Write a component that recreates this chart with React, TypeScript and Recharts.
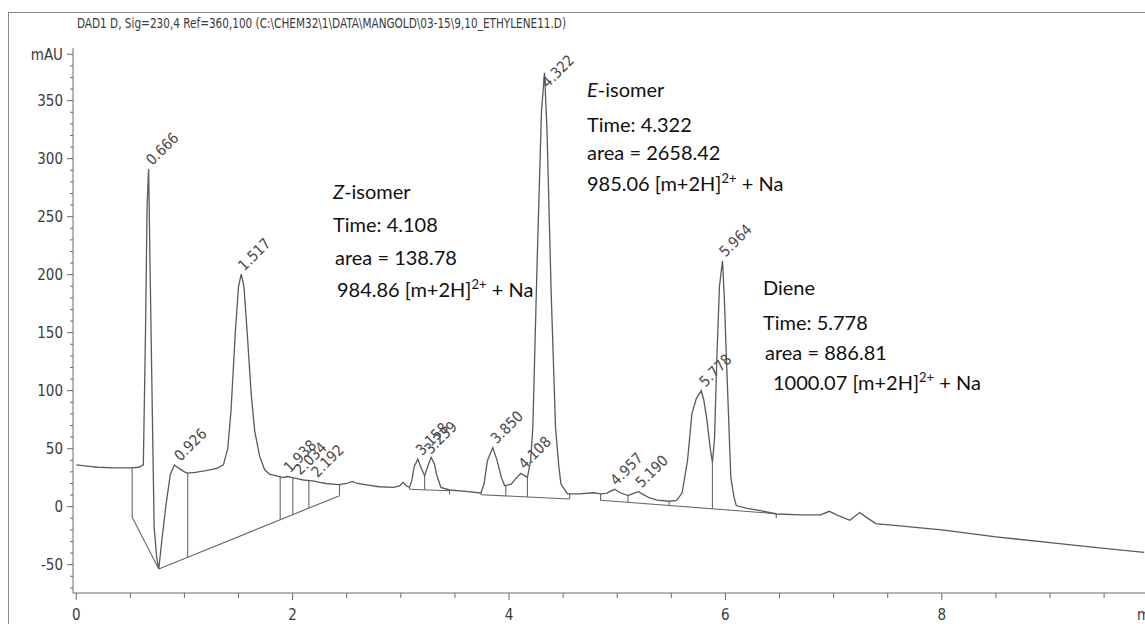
import React from 'react';
import { ComposedChart, Line, XAxis, YAxis, ReferenceLine, ReferenceDot } from 'recharts';

// retention time (min) and detector signal (mAU)
const retentionTimes = [
  0.0, 0.1, 0.2, 0.35, 0.5, 0.58, 0.62, 0.64, 0.655, 0.669, 0.68, 0.7, 0.72, 0.745, 0.763, 0.79, 0.83, 0.87, 0.908,
  0.95, 1.0, 1.03, 1.1, 1.2, 1.3, 1.36, 1.4, 1.43, 1.47, 1.5, 1.525, 1.55, 1.58, 1.617, 1.65, 1.694, 1.74, 1.786,
  1.85, 1.91, 1.95, 2.0, 2.05, 2.1, 2.156, 2.2, 2.25, 2.31, 2.37, 2.43, 2.5, 2.55, 2.6, 2.7, 2.8, 2.93, 2.99, 3.02,
  3.05, 3.08, 3.1, 3.125, 3.157, 3.19, 3.22, 3.25, 3.28, 3.31, 3.33, 3.37, 3.45, 3.6, 3.74, 3.77, 3.8, 3.85, 3.89,
  3.93, 3.96, 4.02, 4.07, 4.11, 4.17, 4.2, 4.22, 4.26, 4.3, 4.328, 4.35, 4.39, 4.43, 4.46, 4.48, 4.54, 4.65, 4.78,
  4.85, 4.9, 4.93, 4.975, 5.03, 5.1, 5.15, 5.197, 5.25, 5.3, 5.37, 5.48, 5.55, 5.6, 5.65, 5.69, 5.73, 5.777, 5.8,
  5.83, 5.86, 5.88, 5.9, 5.92, 5.945, 5.973, 5.99, 6.01, 6.05, 6.08, 6.1, 6.2, 6.3, 6.47, 6.7, 6.88, 6.96, 7.05,
  7.15, 7.24, 7.3, 7.39, 8.0, 8.5, 9.0, 9.5, 9.87,
];
const absorbance = [
  36, 35, 34, 33.5, 33.5, 34, 36, 150, 260, 291, 220, 100, -18, -45, -53.7, -30, 2, 28, 36,
  33, 30, 29, 29.5, 31, 33, 36, 50, 82, 150, 190, 200.5, 190, 150, 97, 65, 44, 32, 28,
  26.5, 25, 26, 25, 24, 23, 22.4, 22, 21, 20, 19.5, 19, 20, 21.8, 20, 18.5, 17.2, 16.6, 18, 21,
  18, 16.6, 22, 35, 41, 33, 26.7, 35, 42.5, 37, 28, 16.6, 14.4, 13.2, 11.8, 20, 39.7, 51, 39.7,
  25, 18, 19.5, 25, 28.7, 25.3, 40, 68, 212, 341, 374, 327, 183, 68, 35, 19.5, 11, 11, 12,
  11, 11.5, 13, 15, 12, 9.5, 11.5, 13, 10, 7.5, 5.6, 4.7, 5.5, 12, 40, 80, 93, 100, 92,
  74, 50, 38, 60, 126, 190, 212, 180, 126, 25, 8, 1, -1.5, -3, -6.3, -7, -7, -4, -8,
  -11.7, -5, -9, -14.6, -20, -26, -31, -36, -39.4,
];

// integrator peak labels (time, label anchor height)
const peakTimes = [0.666, 0.926, 1.517, 1.938, 2.034, 2.192, 3.158, 3.239, 3.85, 4.108, 4.322, 4.957, 5.19, 5.778, 5.964];
const peakHeights = [291, 36, 200, 26, 24, 22, 41, 42, 51, 29, 358, 15, 13, 100, 212];
const peakLabels = ['0.666', '0.926', '1.517', '1.938', '2.034', '2.192', '3.158', '3.239', '3.850', '4.108', '4.322', '4.957', '5.190', '5.778', '5.964'];

// integration baselines and drop lines: [t1, v1, t2, v2]
const integrationSegments = [
  [0.517, 33.5, 0.517, -9],
  [0.517, -9, 0.763, -53.7],
  [0.763, -53.7, 2.433, 9.5],
  [2.433, 9.5, 2.433, 19],
  [1.03, 29, 1.03, -43.6],
  [1.885, 26, 1.885, -11.2],
  [2.002, 25, 2.002, -6.8],
  [2.15, 22.5, 2.15, -1.2],
  [3.08, 16.6, 3.08, 15],
  [3.08, 15, 3.45, 13.8],
  [3.45, 14.4, 3.45, 10.5],
  [3.22, 26.7, 3.22, 14.5],
  [3.74, 11.8, 3.74, 10.3],
  [3.74, 10.3, 4.56, 6.6],
  [4.56, 6.6, 4.56, 11],
  [3.97, 18, 3.97, 9.4],
  [4.17, 25.3, 4.17, 8.4],
  [4.846, 11, 4.846, 5.5],
  [4.846, 5.5, 6.47, -6],
  [6.47, -6.3, 6.47, -10],
  [5.1, 9.5, 5.1, 3.7],
  [5.48, 4.7, 5.48, 1.0],
  [5.88, 38, 5.88, -1.8],
];

const xTicks = [0, 0.5, 1, 1.5, 2, 2.5, 3, 3.5, 4, 4.5, 5, 5.5, 6, 6.5, 7, 7.5, 8, 8.5, 9, 9.5];
const yTicks = [-70, -60, -50, -40, -30, -20, -10, 0, 10, 20, 30, 40, 50, 60, 70, 80, 90, 100, 110, 120, 130, 140,
  150, 160, 170, 180, 190, 200, 210, 220, 230, 240, 250, 260, 270, 280, 290, 300, 310, 320, 330, 340, 350, 360,
  370, 380, 390];

const data = retentionTimes.map((t, i) => ({ t, v: absorbance[i] }));

const narrow = "'Liberation Sans Narrow', 'DejaVu Sans Condensed', sans-serif";
const axisGray = '#6a6a6a';
const textGray = '#3a3a3a';

const YTick = (props: any) => {
  const { x, y, payload } = props;
  const v = payload.value;
  const major = v % 50 === 0;
  let label = major && v >= -50 && v <= 350 ? String(v) : '';
  if (v === 390) label = 'mAU';
  return (
    <g>
      <line x1={x - (major || v === 390 ? 6 : 3)} x2={x} y1={y} y2={y} stroke={axisGray} strokeWidth={1} />
      {label && (
        <text x={x - 10} y={y} dy="0.36em" textAnchor="end" fontFamily={narrow} fontSize={15} fill={textGray}>
          {label}
        </text>
      )}
    </g>
  );
};

const XTick = (props: any) => {
  const { x, y, payload } = props;
  const v = payload.value;
  const major = v % 2 === 0;
  return (
    <g>
      <line x1={x} x2={x} y1={y} y2={y + (major ? 7 : 5)} stroke={axisGray} strokeWidth={1} />
      {major && (
        <text x={x} y={y + 22} dy="0.36em" textAnchor="middle" fontFamily={narrow} fontSize={15} fill={textGray}>
          {v}
        </text>
      )}
    </g>
  );
};

const PeakLabel = (text: string) => (props: any) => {
  const { cx, cy } = props;
  const x = cx + 4;
  const y = cy - 3;
  return (
    <text x={x} y={y} transform={`rotate(-45 ${x} ${y})`} fontFamily={narrow} fontSize={15} fill="#4a4a4a">
      {text}
    </text>
  );
};

const Sup = ({ children }: { children: React.ReactNode }) => (
  <>
    <tspan dy={-8} fontSize={13}>{children}</tspan>
    <tspan dy={8}> </tspan>
  </>
);

const noteFont = "Lato, 'Open Sans', sans-serif";

export default function App() {
  return (
    <div style={{ position: 'absolute', left: 0, top: 0, width: 1145, height: 624, overflow: 'hidden', background: '#fff' }}>
      <ComposedChart width={1145} height={624} data={data} margin={{ top: 48, right: 0, left: 0, bottom: 0 }}>
        <XAxis
          dataKey="t"
          type="number"
          domain={[-0.03, 9.878]}
          allowDataOverflow
          ticks={xTicks}
          interval={0}
          tick={<XTick />}
          tickSize={0}
          tickMargin={0}
          tickLine={false}
          height={31}
          stroke={axisGray}
        />
        <YAxis
          type="number"
          domain={[-74.4, 395.4]}
          allowDataOverflow
          ticks={yTicks}
          interval={0}
          tick={<YTick />}
          tickSize={0}
          tickMargin={0}
          tickLine={false}
          width={73}
          stroke={axisGray}
        />
        {integrationSegments.map((s, i) => (
          <ReferenceLine
            key={'seg' + i}
            segment={[{ x: s[0], y: s[1] }, { x: s[2], y: s[3] }]}
            stroke="#666"
            strokeWidth={1.1}
            ifOverflow="visible"
          />
        ))}
        <Line type="linear" dataKey="v" stroke="#5a5a5a" strokeWidth={1.3} dot={false} isAnimationActive={false} />
        {peakTimes.map((t, i) => (
          <ReferenceDot key={'pk' + i} x={t} y={peakHeights[i]} r={0} ifOverflow="visible" shape={PeakLabel(peakLabels[i])} />
        ))}
      </ComposedChart>
      <svg width={1145} height={624} style={{ position: 'absolute', left: 0, top: 0, pointerEvents: 'none' }}>
        <line x1={8.5} y1={12} x2={8.5} y2={624} stroke="#8a8a8a" strokeWidth={1} />
        <line x1={8} y1={12.5} x2={1145} y2={12.5} stroke="#8a8a8a" strokeWidth={1} />
        <text x={77} y={28} fontFamily={narrow} fontSize={14} fill={textGray} textLength={489} lengthAdjust="spacingAndGlyphs">
          DAD1 D, Sig=230,4 Ref=360,100 (C:\CHEM32\1\DATA\MANGOLD\03-15\9,10_ETHYLENE11.D)
        </text>
        <text x={1137} y={615} dy="0.36em" fontFamily={narrow} fontSize={15} fill={textGray}>min</text>

        <g fontFamily={noteFont} fontSize={20} fill="#111">
          <text x={333} y={192} dy="0.36em"><tspan fontStyle="italic">Z</tspan>-isomer</text>
          <text x={333} y={225} dy="0.36em">Time: 4.108</text>
          <text x={335} y={258} dy="0.36em">area = 138.78</text>
          <text x={337} y={290} dy="0.36em">984.86 [m+2H]<Sup>2+</Sup>+ Na</text>

          <text x={587} y={90} dy="0.36em"><tspan fontStyle="italic">E</tspan>-isomer</text>
          <text x={587} y={125} dy="0.36em">Time: 4.322</text>
          <text x={587} y={153} dy="0.36em">area = 2658.42</text>
          <text x={587} y={184} dy="0.36em">985.06 [m+2H]<Sup>2+</Sup>+ Na</text>

          <text x={763} y={288} dy="0.36em">Diene</text>
          <text x={763} y={323} dy="0.36em">Time: 5.778</text>
          <text x={765} y={353} dy="0.36em">area = 886.81</text>
          <text x={773} y={383} dy="0.36em">1000.07 [m+2H]<Sup>2+</Sup>+ Na</text>
        </g>
      </svg>
    </div>
  );
}
